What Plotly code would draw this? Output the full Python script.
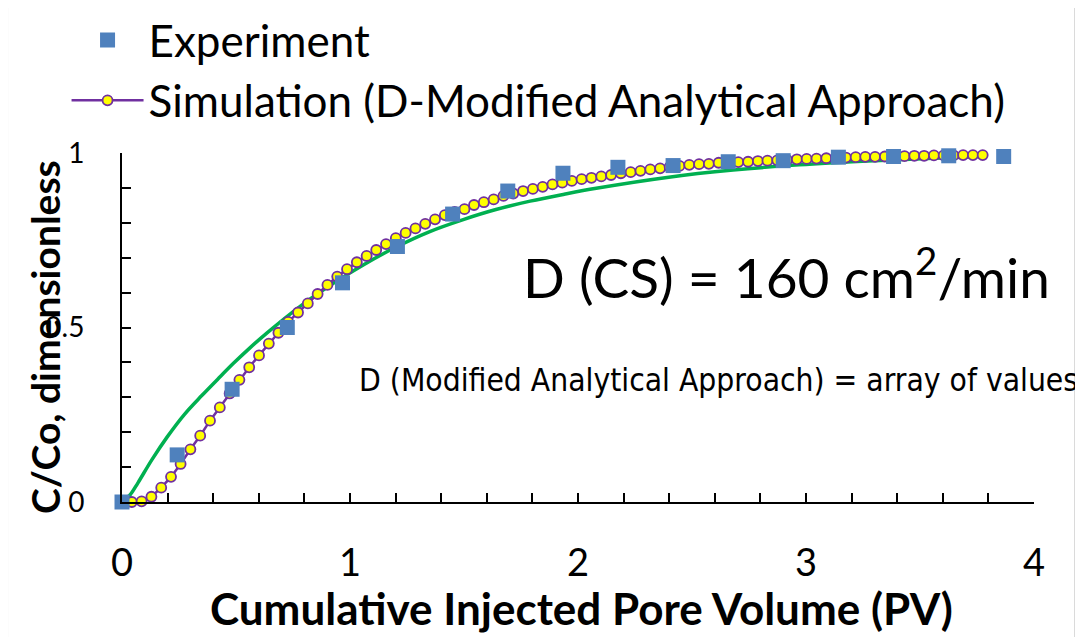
import plotly.graph_objects as go

# ---------------- data ----------------
exp_x = [0.0, 0.242, 0.483, 0.725, 0.967, 1.208, 1.45, 1.692, 1.934, 2.175,
         2.417, 2.659, 2.9, 3.142, 3.384, 3.626, 3.867]
exp_y = [0.0, 0.135, 0.323, 0.50, 0.628, 0.732, 0.825, 0.891, 0.942, 0.959,
         0.964, 0.975, 0.978, 0.988, 0.99, 0.992, 0.99]

sim_x = [0.0, 0.043, 0.086, 0.129, 0.172, 0.215, 0.257, 0.3, 0.343, 0.386,
         0.429, 0.472, 0.515, 0.558, 0.601, 0.644, 0.686, 0.729, 0.772, 0.815,
         0.858, 0.901, 0.944, 0.987, 1.03, 1.073, 1.115, 1.158, 1.201, 1.244,
         1.287, 1.33, 1.373, 1.416, 1.459, 1.502, 1.544, 1.587, 1.63, 1.673,
         1.716, 1.759, 1.802, 1.845, 1.888, 1.931, 1.973, 2.016, 2.059, 2.102,
         2.145, 2.188, 2.231, 2.274, 2.317, 2.36, 2.402, 2.445, 2.488, 2.531,
         2.574, 2.617, 2.66, 2.703, 2.746, 2.789, 2.831, 2.874, 2.917, 2.96,
         3.003, 3.046, 3.089, 3.132, 3.175, 3.218, 3.26, 3.303, 3.346, 3.389,
         3.432, 3.475, 3.518, 3.561, 3.604, 3.647, 3.689, 3.732, 3.775]
sim_y = [0.0, 0.0, 0.002, 0.015, 0.041, 0.072, 0.109, 0.151, 0.19, 0.233,
         0.271, 0.311, 0.35, 0.386, 0.42, 0.454, 0.485, 0.516, 0.543, 0.569,
         0.596, 0.622, 0.646, 0.667, 0.687, 0.705, 0.722, 0.739, 0.756, 0.771,
         0.784, 0.797, 0.81, 0.822, 0.831, 0.839, 0.851, 0.859, 0.867, 0.877,
         0.884, 0.891, 0.897, 0.903, 0.91, 0.915, 0.92, 0.925, 0.929, 0.933,
         0.937, 0.942, 0.945, 0.949, 0.953, 0.956, 0.96, 0.963, 0.966, 0.968,
         0.969, 0.972, 0.973, 0.974, 0.975, 0.977, 0.978, 0.979, 0.98, 0.982,
         0.983, 0.984, 0.985, 0.986, 0.987, 0.988, 0.989, 0.989, 0.99, 0.99,
         0.991, 0.992, 0.992, 0.993, 0.993, 0.993, 0.994, 0.994, 0.994]

cs_x = [0.0, 0.035, 0.07, 0.13, 0.2, 0.275, 0.35, 0.42, 0.49, 0.56, 0.635,
        0.78, 0.93, 1.06, 1.2, 1.35, 1.5, 1.64, 1.79, 1.94, 2.08, 2.39, 2.68,
        2.97, 3.27, 3.56, 3.78]
cs_y = [0.0, 0.02, 0.055, 0.12, 0.188, 0.252, 0.305, 0.352, 0.398, 0.441,
        0.484, 0.56, 0.628, 0.68, 0.73, 0.775, 0.81, 0.838, 0.862, 0.882,
        0.899, 0.93, 0.951, 0.966, 0.977, 0.985, 0.99]

x_ticks = [0, 1, 2, 3, 4]
y_ticks = [0, 0.5, 1]
y_tick_text = ["0", "0.5", "1"]

FONT = "Lato, 'Open Sans', sans-serif"
NARROW = "'Liberation Sans Narrow', 'DejaVu Sans Condensed', 'Roboto Condensed', sans-serif"

fig = go.Figure()

fig.add_trace(go.Scatter(
    x=cs_x, y=cs_y, mode="lines", line=dict(color="#00B050", width=3.5, shape="spline"),
    showlegend=False, cliponaxis=False, name="CS"))

fig.add_trace(go.Scatter(
    x=sim_x, y=sim_y, mode="lines+markers",
    name="Simulation (D-Modified Analytical Approach)",
    line=dict(color="#7030A0", width=2.5),
    marker=dict(symbol="circle", size=10, color="#FFFF00",
                line=dict(color="#7030A0", width=1.8)),
    cliponaxis=False, legendrank=2))

fig.add_trace(go.Scatter(
    x=exp_x, y=exp_y, mode="markers", name="Experiment",
    marker=dict(symbol="square", size=15, color="#4F81BD"),
    cliponaxis=False, legendrank=1))

fig.update_layout(
    width=1083, height=637,
    margin=dict(l=114, r=57, t=145, b=143, autoexpand=False),
    paper_bgcolor="white", plot_bgcolor="white",
    font=dict(family=FONT, color="black"),
    legend=dict(
        x=-0.0608, y=1.424, xanchor="left", yanchor="top",
        font=dict(family=FONT, size=44, color="black"),
        bgcolor="rgba(0,0,0,0)", traceorder="normal",
        itemwidth=72),
    xaxis=dict(
        range=[0, 4], tickvals=x_ticks, ticks="inside", ticklen=9, tickwidth=2,
        tickcolor="black", showline=True, linecolor="black", linewidth=2,
        showgrid=False, zeroline=False, automargin=False,
        minor=dict(dtick=0.2, ticks="inside", ticklen=9, tickwidth=2, tickcolor="black", showgrid=False),
        tickfont=dict(family=FONT, size=38), ticklabelstandoff=26),
    yaxis=dict(
        range=[0, 1], tickvals=y_ticks, ticktext=y_tick_text, ticks="inside", ticklen=9,
        tickwidth=2, tickcolor="black", showline=True, linecolor="black", linewidth=2,
        showgrid=False, zeroline=False, automargin=False,
        minor=dict(dtick=0.1, ticks="inside", ticklen=9, tickwidth=2, tickcolor="black", showgrid=False),
        tickfont=dict(family=FONT, size=28), ticklabelstandoff=30),
    annotations=[
        dict(x=0.504, y=-0.304, xref="paper", yref="paper", xanchor="center", yanchor="middle",
             text="<b>Cumulative Injected Pore Volume (PV)</b>", showarrow=False,
             font=dict(family=FONT, size=44, color="black")),
        dict(x=-0.0844, y=0.473, xref="paper", yref="paper", xanchor="center", yanchor="middle",
             text="<b>C/Co, dimensionless</b>", showarrow=False, textangle=-90,
             font=dict(family=FONT, size=39, color="black")),
        dict(x=1.75, y=0.655, xref="x", yref="y", xanchor="left", yanchor="middle",
             text="D (CS) = 160 cm<sup>2</sup>/min", showarrow=False,
             font=dict(family=FONT, size=55, color="black")),
        dict(x=1.03, y=0.35, xref="x", yref="y", xanchor="left", yanchor="middle",
             text="D (Modified Analytical Approach) = array of values", showarrow=False,
             font=dict(family=NARROW, size=31.5, color="black")),
    ],
    shapes=[
        dict(type="rect", xref="paper", yref="paper", x0=-0.126, x1=1.045,
             y0=-0.6, y1=1.418, line=dict(color="#D9D9D9", width=2),
             fillcolor="rgba(0,0,0,0)", layer="below"),
    ],
)

fig.write_html("out.html")
